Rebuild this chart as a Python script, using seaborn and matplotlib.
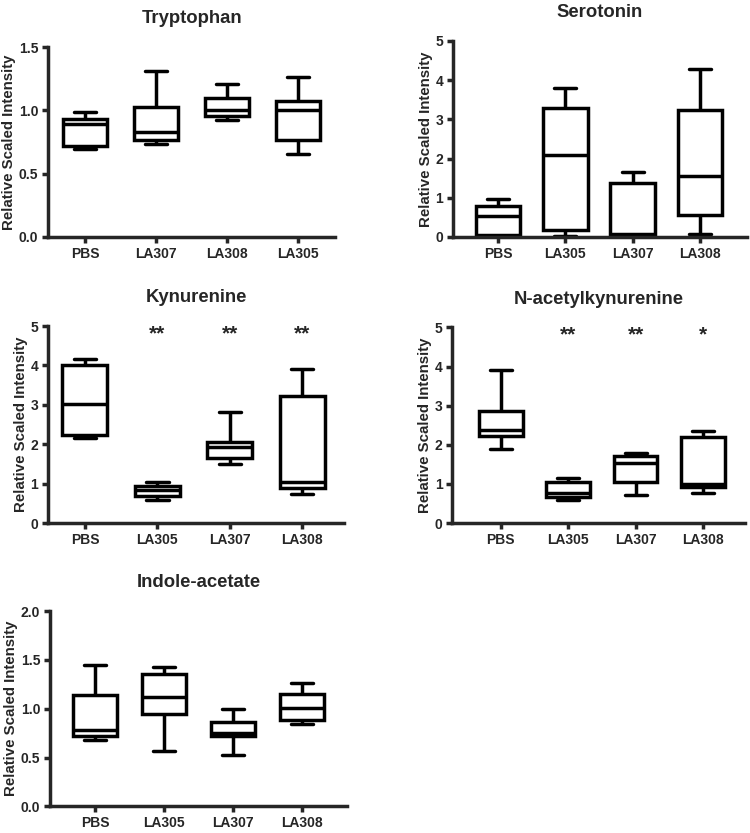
"""
代謝物ごとの箱ひげ図 (min-max ひげ)
"""

import matplotlib

matplotlib.use("Agg")
import matplotlib.pyplot as plt
import pandas as pd
import seaborn as sns

# 各群の五数要約: [min, q1, median, q3, max]
trp_groups = ["PBS", "LA307", "LA308", "LA305"]
trp_stats = [
    [0.695, 0.721, 0.895, 0.932, 0.984],
    [0.734, 0.768, 0.826, 1.026, 1.31],
    [0.921, 0.953, 1.005, 1.10, 1.21],
    [0.658, 0.768, 1.00, 1.074, 1.263],
]

ser_groups = ["PBS", "LA305", "LA307", "LA308"]
ser_stats = [
    [0.03, 0.05, 0.525, 0.78, 0.98],
    [0.03, 0.17, 2.10, 3.30, 3.79],
    [0.02, 0.03, 0.07, 1.37, 1.66],
    [0.07, 0.56, 1.56, 3.24, 4.27],
]

kyn_groups = ["PBS", "LA305", "LA307", "LA308"]
kyn_stats = [
    [2.15, 2.23, 3.02, 4.01, 4.17],
    [0.59, 0.68, 0.83, 0.95, 1.04],
    [1.50, 1.65, 1.94, 2.05, 2.83],
    [0.74, 0.90, 1.04, 3.23, 3.91],
]
kyn_stars = ["", "**", "**", "**"]

nak_groups = ["PBS", "LA305", "LA307", "LA308"]
nak_stats = [
    [1.90, 2.22, 2.37, 2.86, 3.90],
    [0.58, 0.66, 0.76, 1.05, 1.16],
    [0.71, 1.06, 1.53, 1.71, 1.78],
    [0.76, 0.92, 1.00, 2.20, 2.35],
]
nak_stars = ["", "**", "**", "*"]

ind_groups = ["PBS", "LA305", "LA307", "LA308"]
ind_stats = [
    [0.68, 0.72, 0.78, 1.14, 1.45],
    [0.57, 0.95, 1.12, 1.35, 1.43],
    [0.53, 0.72, 0.75, 0.86, 1.00],
    [0.84, 0.88, 1.01, 1.15, 1.26],
]

sns.set_style("ticks")
plt.rcParams["font.family"] = ["Liberation Sans", "DejaVu Sans"]
plt.rcParams["font.weight"] = "bold"

LW = 2.5


def to_frame(groups, stats):
    # 五数要約を5点データにすると四分位がそのまま一致する
    rows = []
    for g, s in zip(groups, stats):
        for v in s:
            rows.append({"group": g, "value": v})
    return pd.DataFrame(rows)


def draw_panel(rect, title, groups, stats, ylim, yticks, yfmt, xlim, width, stars=None, star_y=None):
    ax = fig.add_axes(rect)
    df = to_frame(groups, stats)
    sns.boxplot(
        data=df,
        x="group",
        y="value",
        order=groups,
        whis=(0, 100),
        width=width,
        color="white",
        linecolor="black",
        linewidth=LW,
        showfliers=False,
        ax=ax,
    )
    ax.set_xlim(*xlim)
    ax.set_ylim(*ylim)
    ax.set_yticks(yticks)
    ax.set_yticklabels([yfmt.format(t) for t in yticks])
    ax.set_xlabel("")
    ax.set_ylabel("Relative Scaled Intensity", fontsize=10.8, fontweight="bold", labelpad=2)
    ax.set_title(title, fontsize=13.3, fontweight="bold", pad=17)
    ax.tick_params(axis="both", width=LW, length=4.5, labelsize=10, pad=2.5)
    for lab in ax.get_xticklabels() + ax.get_yticklabels():
        lab.set_fontweight("bold")
    for side in ["left", "bottom"]:
        ax.spines[side].set_linewidth(LW)
    sns.despine(ax=ax)
    if stars:
        for i, s in enumerate(stars):
            if s:
                ax.text(i, star_y, s, ha="center", va="center", fontsize=15, fontweight="bold")
    return ax


fig = plt.figure(figsize=(7.5, 8.33), dpi=100)

draw_panel([0.064, 0.7155, 0.383, 0.228], "Tryptophan", trp_groups, trp_stats,
           (0, 1.5), [0, 0.5, 1.0, 1.5], "{:.1f}", (-0.52, 3.53), 0.62)
draw_panel([0.604, 0.7155, 0.392, 0.2355], "Serotonin", ser_groups, ser_stats,
           (0, 5), [0, 1, 2, 3, 4, 5], "{:.0f}", (-0.67, 3.7), 0.66)
draw_panel([0.064, 0.372, 0.395, 0.2366], "Kynurenine", kyn_groups, kyn_stats,
           (0, 5), [0, 1, 2, 3, 4, 5], "{:.0f}", (-0.51, 3.58), 0.62,
           stars=kyn_stars, star_y=4.8)
draw_panel([0.603, 0.372, 0.39, 0.235], "N-acetylkynurenine", nak_groups, nak_stats,
           (0, 5), [0, 1, 2, 3, 4, 5], "{:.0f}", (-0.72, 3.62), 0.65,
           stars=nak_stars, star_y=4.8)
draw_panel([0.0667, 0.032, 0.396, 0.2345], "Indole-acetate", ind_groups, ind_stats,
           (0, 2.0), [0, 0.5, 1.0, 1.5, 2.0], "{:.1f}", (-0.65, 3.65), 0.63)

fig.savefig("out.png", dpi=100)
plt.close(fig)
